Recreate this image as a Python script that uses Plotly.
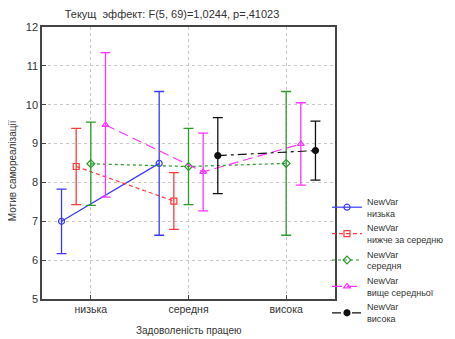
import plotly.graph_objects as go

categories = ["низька", "середня", "висока"]
series_names = ["NewVar<br>низька", "NewVar<br>нижче за середню", "NewVar<br>середня",
                "NewVar<br>вище середньої", "NewVar<br>висока"]

low_mean = [7.00, 8.49, None]
low_err = [0.83, 1.85, None]
below_mean = [8.41, 7.52, None]
below_err = [0.98, 0.73, None]
mid_mean = [8.48, 8.41, 8.49]
mid_err = [1.07, 0.98, 1.85]
above_mean = [9.48, 8.27, 8.99]
above_err = [1.86, 1.00, 1.06]
high_mean = [None, 8.69, 8.82]
high_err = [None, 0.98, 0.76]

means = [low_mean, below_mean, mid_mean, above_mean, high_mean]
errs = [low_err, below_err, mid_err, above_err, high_err]
offsets = [-0.3, -0.15, 0.0, 0.15, 0.3]
colors = ["#3a3aff", "#ff3a3a", "#2a9a2a", "#ff33ff", "#111111"]
dashes = ["solid", "4px,3px", "dot", "10px,5px", "9px,4px,3px,4px"]
symbols = ["circle-open", "square-open", "diamond-open", "triangle-up-open", "circle"]

# page body has an 8px margin; figure fills the rest of the 455x339 window
W, H = 447, 331

fig = go.Figure()
for name, m, e, off, c, d, s in zip(series_names, means, errs, offsets, colors, dashes, symbols):
    xs = [i + off for i, v in enumerate(m) if v is not None]
    ys = [v for v in m if v is not None]
    es = [ev for ev in e if ev is not None]
    fig.add_trace(go.Scatter(
        x=xs, y=ys, name=name, mode="lines+markers",
        line=dict(color=c, width=1.2, dash=d),
        marker=dict(symbol=s, size=6, color=c, line=dict(color=c, width=1.2)),
        error_y=dict(type="data", array=es, visible=True, color=c, thickness=1.3, width=5),
    ))

fig.update_layout(
    width=W, height=H,
    margin=dict(l=34, r=120, t=19, b=40, autoexpand=False),
    paper_bgcolor="white", plot_bgcolor="white",
    font=dict(family="Arial, Liberation Sans, sans-serif", size=10, color="#333333"),
    title=dict(text="Текущ  эффект: F(5, 69)=1,0244, p=,41023", x=164 / W, xanchor="center",
               xref="container", y=1 - 6.5 / H, yref="container", yanchor="middle",
               font=dict(size=11, color="#333333")),
    showlegend=True,
    legend=dict(x=319 / W, xanchor="left", xref="container", y=1 - 181 / H, yref="container",
                yanchor="top", font=dict(size=9, color="#333333"), bgcolor="rgba(0,0,0,0)",
                itemwidth=30, tracegroupgap=0),
    xaxis=dict(range=[-0.5, 2.5], tickvals=[0, 1, 2], ticktext=categories,
               showgrid=True, gridcolor="#c8c8c8", griddash="dot", gridwidth=1,
               showline=True, linecolor="#444444", linewidth=1.5, mirror=True,
               ticks="inside", ticklen=4, tickcolor="#444444",
               tickfont=dict(size=10.5, color="#333333"), zeroline=False),
    yaxis=dict(range=[5, 12], dtick=1, tick0=5,
               showgrid=True, gridcolor="#c8c8c8", griddash="dot", gridwidth=1,
               showline=True, linecolor="#444444", linewidth=1.5, mirror=True,
               ticks="inside", ticklen=4, tickcolor="#444444",
               tickfont=dict(size=11, color="#333333"), zeroline=False),
    annotations=[
        dict(text="Задоволеність працею", xref="paper", yref="paper", x=0.5, y=(299 - 330) / 272,
             showarrow=False, xanchor="center", yanchor="middle", font=dict(size=10, color="#333333")),
        dict(text="Мотив самореалізації", xref="paper", yref="paper", x=(12 - 42) / 293, y=0.47,
             showarrow=False, textangle=-90, xanchor="center", yanchor="middle",
             font=dict(size=10, color="#333333")),
    ],
)

fig.write_html("out.html")
